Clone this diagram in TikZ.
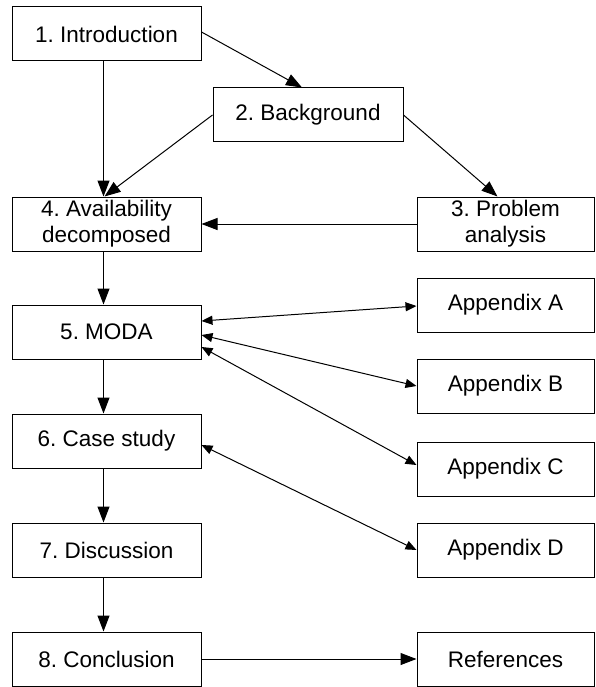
\documentclass[tikz,border=0pt]{standalone}
\usepackage{fontspec}
\setmainfont{Liberation Sans}
\usetikzlibrary{arrows.meta,calc}
\frenchspacing
\begin{document}
\begin{tikzpicture}[x=1pt,y=-1pt,
  box/.style={draw=black,line width=1pt,fill=white,rectangle,inner sep=0pt,
    minimum height=54pt,align=center,font=\fontsize{22.5}{26}\selectfont},
  leftbox/.style={box,minimum width=189pt},
  rightbox/.style={box,minimum width=177pt},
  flow/.style={line width=1pt,-{Triangle[length=16pt,width=12pt]}},
  link/.style={line width=1pt,{Triangle[length=11pt,width=9pt]}-{Triangle[length=11pt,width=9pt]}}]
\useasboundingbox (0,0) rectangle (595,687);

% left column: chapters
\node[leftbox] (intro) at (106.5,34) {1. Introduction};
\node[box,minimum width=190pt] (bg) at (308,115) {2. Background};
\node[leftbox] (avail) at (106.5,224) {4. Availability\\decomposed};
\node[leftbox] (moda) at (106.5,332) {5. MODA};
\node[leftbox] (case) at (106.5,441) {6. Case study};
\node[leftbox] (disc) at (106.5,550) {7. Discussion};
\node[leftbox] (concl) at (106.5,659) {8. Conclusion};

% right column: analysis, appendices and references
\node[rightbox] (prob) at (505.5,224) {3. Problem\\analysis};
\node[rightbox] (appa) at (505.5,305) {Appendix A};
\node[rightbox] (appb) at (505.5,386) {Appendix B};
\node[rightbox] (appc) at (505.5,469) {Appendix C};
\node[rightbox] (appd) at (505.5,550) {Appendix D};
\node[rightbox] (refs) at (505.5,659) {References};

% reading order
\draw[flow] ($(intro.east)+(0,-2)$) -- ($(bg.north)+(-6,0)$);
\draw[flow] ($(intro.south)+(-3,0)$) -- ($(avail.north)+(-3,0)$);
\draw[flow] (bg.west) -- ($(avail.north)+(-2,0)$);
\draw[flow] (bg.east) -- ($(prob.north)+(-8,0)$);
\draw[flow] (prob.west) -- (avail.east);
\draw[flow] ($(avail.south)+(-3,0)$) -- ($(moda.north)+(-3,0)$);
\draw[flow] ($(moda.south)+(-3,0)$) -- ($(case.north)+(-3,0)$);
\draw[flow] ($(case.south)+(-3,0)$) -- ($(disc.north)+(-3,0)$);
\draw[flow] ($(disc.south)+(-3,0)$) -- ($(concl.north)+(-3,0)$);
\draw[flow] (concl.east) -- (refs.west);

% cross references to the appendices
\draw[link] ($(moda.east)+(0,-11)$) -- ($(appa.west)+(0,1)$);
\draw[link] ($(moda.east)+(0,3)$) -- (appb.west);
\draw[link] ($(moda.east)+(0,15)$) -- ($(appc.west)+(0,-4)$);
\draw[link] ($(case.east)+(0,4)$) -- (appd.west);
\end{tikzpicture}
\end{document}
